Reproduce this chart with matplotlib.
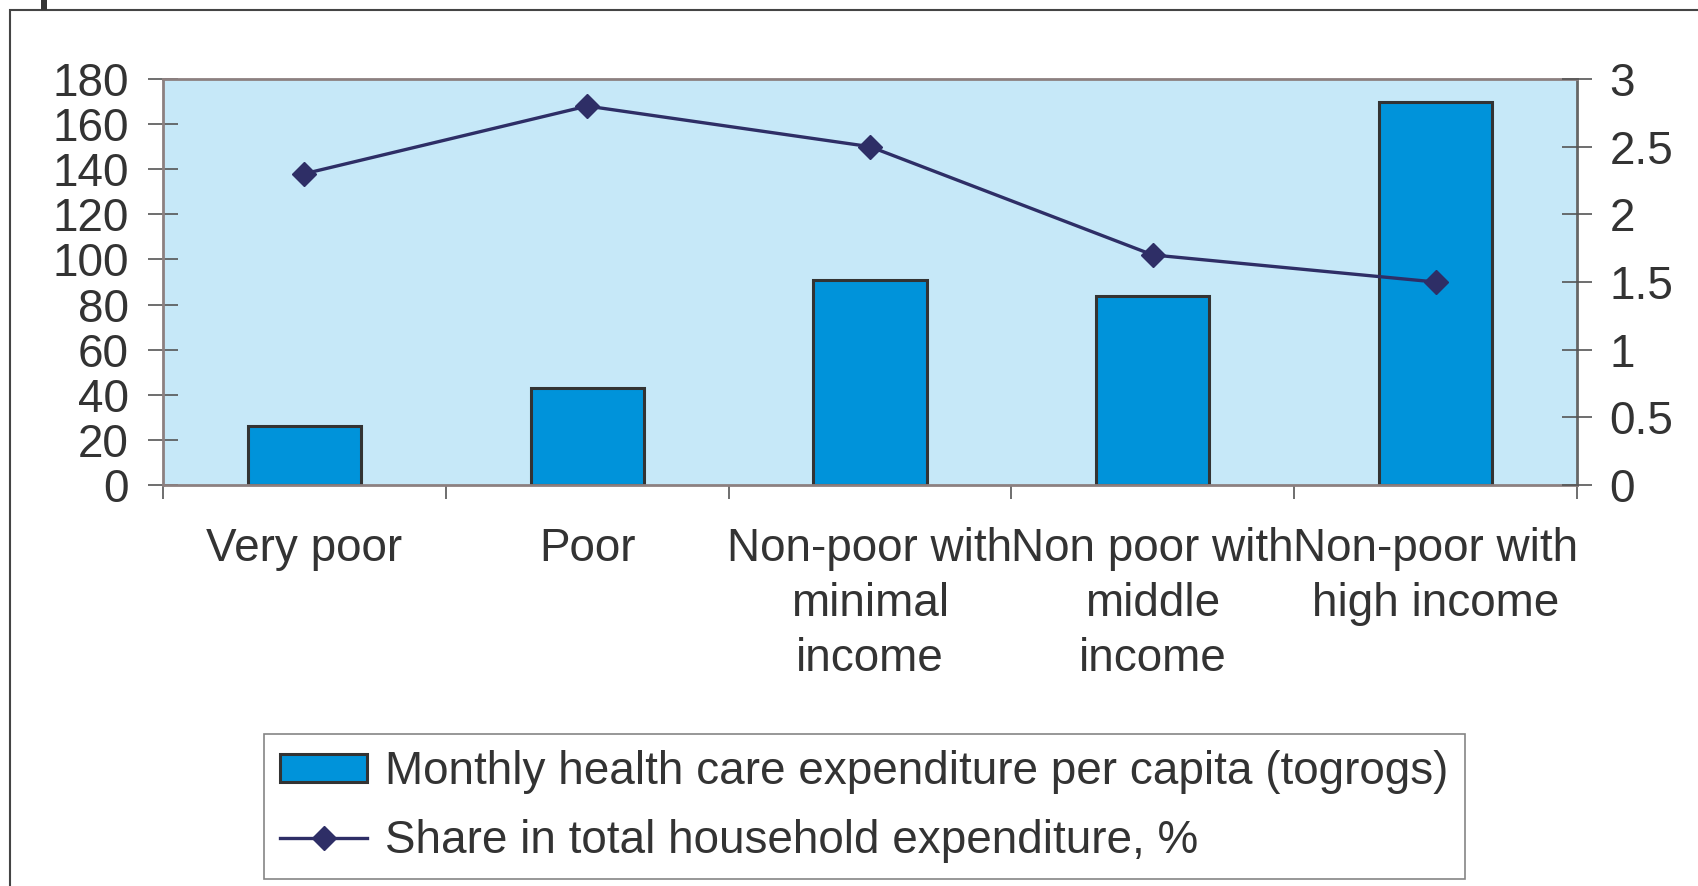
import numpy as np
import matplotlib
matplotlib.use("Agg")
import matplotlib.pyplot as plt
from matplotlib.patches import Rectangle, Patch
from matplotlib.lines import Line2D

plt.rcParams["font.family"] = ["Liberation Sans", "DejaVu Sans"]

categories = [
    "Very poor",
    "Poor",
    "Non-poor with\nminimal\nincome",
    "Non poor with\nmiddle\nincome",
    "Non-poor with\nhigh income",
]
spending = [26, 43, 91, 84, 170]          # togrogs per capita per month
share = [2.3, 2.8, 2.5, 1.7, 1.5]         # % of household expenditure
left_ticks = [0, 20, 40, 60, 80, 100, 120, 140, 160, 180]
right_ticks = [0, 0.5, 1, 1.5, 2, 2.5, 3]
right_labels = ["0", "0.5", "1", "1.5", "2", "2.5", "3"]

bar_label = "Monthly health care expenditure per capita (togrogs)"
line_label = "Share in total household expenditure, %"

TEXT = "#333333"
BG = "#c6e8f8"
BAR = "#0093da"
NAVY = "#2e2e66"
TICK = "#555555"
FS = 33

W, H = 1699, 886
fig = plt.figure(figsize=(W / 100, H / 100), dpi=100)

# outer frame, open to the right and bottom
fig.add_artist(Rectangle((10 / W, -0.1), 1.2, 1.1 - 10 / H, transform=fig.transFigure,
                         fill=False, edgecolor="#444444", lw=1.5))
fig.add_artist(Rectangle((41 / W, 1 - 10 / H), 6 / W, 10 / H, transform=fig.transFigure,
                         facecolor="#333333", edgecolor="none"))

ax = fig.add_axes([163 / W, 1 - 485 / H, (1577 - 163) / W, (485 - 79) / H])
ax.set_facecolor(BG)
x = np.arange(len(categories))
ax.bar(x, spending, width=0.4, color=BAR, edgecolor="#333333", linewidth=2.2, zorder=2)
ax.set_xlim(-0.5, len(categories) - 0.5)
ax.set_ylim(0, 180)
ax.set_yticks(left_ticks)
ax.set_yticklabels([str(v) for v in left_ticks])

# boundary ticks without labels, category labels on minor ticks
ax.set_xticks(np.arange(len(categories) + 1) - 0.5)
ax.set_xticklabels([])
ax.set_xticks(x, minor=True)
ax.set_xticklabels(categories, minor=True, fontsize=FS, color=TEXT, linespacing=1.33)
ax.tick_params(axis="x", which="major", direction="out", length=10, width=1.2, color=TICK)
ax.tick_params(axis="x", which="minor", length=0, pad=30)
ax.tick_params(axis="y", direction="inout", length=21, width=1.2, color=TICK,
               labelsize=FS, labelcolor=TEXT, pad=14)

for side in ["left", "top", "bottom"]:
    ax.spines[side].set_color("#8c8080")
    ax.spines[side].set_linewidth(2)
ax.spines["right"].set_color("#666666")
ax.spines["right"].set_linewidth(2)

ax2 = ax.twinx()
ax2.plot(x, share, color=NAVY, lw=2.4, marker="D", markersize=12.5, zorder=3)
ax2.set_ylim(0, 3)
ax2.set_yticks(right_ticks)
ax2.set_yticklabels(right_labels)
ax2.tick_params(axis="y", direction="inout", length=21, width=1.2, color=TICK,
                labelsize=FS, labelcolor=TEXT, pad=13)
for side in ["left", "top", "bottom", "right"]:
    ax2.spines[side].set_visible(False)

handles = [
    Patch(facecolor=BAR, edgecolor="#333333", linewidth=2.2),
    Line2D([0], [0], color=NAVY, lw=2.4, marker="D", markersize=12.5),
]
leg = fig.legend(handles, [bar_label, line_label], loc="upper left",
                 bbox_to_anchor=(264 / W, 1 - 734 / H), fontsize=FS,
                 frameon=True, fancybox=False, handlelength=1.9, handleheight=0.55,
                 handletextpad=0.4, labelspacing=0.55, borderpad=0.35,
                 borderaxespad=0)
leg.get_frame().set_edgecolor("#666666")
leg.get_frame().set_linewidth(1.2)
for t in leg.get_texts():
    t.set_color(TEXT)

fig.savefig("out.png", dpi=100)
